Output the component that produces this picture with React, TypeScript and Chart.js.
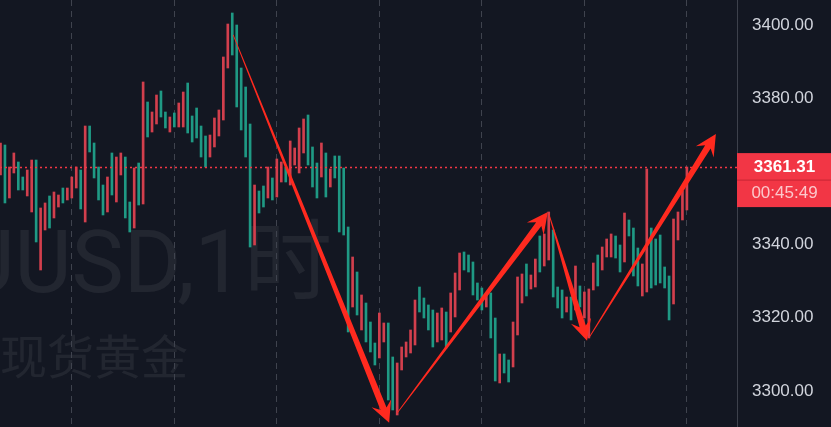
import React, { useEffect, useRef } from "react";
import { Chart, registerables } from "chart.js";

Chart.register(...registerables);

// ---- data (hourly bars, XAUUSD) ----
const highs: number[] = [
  3367.76, 3367.21, 3361.2, 3365.03, 3362.57, 3358.47, 3360.38, 3363.11, 3363.11, 3350.0,
  3351.37, 3353.28, 3354.37, 3353.55, 3355.46, 3355.46, 3358.47, 3361.2, 3360.38, 3372.4,
  3372.4, 3367.76, 3361.2, 3356.28, 3358.47, 3365.03, 3363.93, 3365.03, 3363.93, 3351.64,
  3360.93, 3362.29, 3384.43, 3378.96, 3376.23, 3380.87, 3381.97, 3376.23, 3374.86, 3375.96,
  3378.69, 3381.69, 3384.15, 3375.14, 3377.32, 3372.4, 3369.67, 3369.94, 3374.59, 3376.78,
  3391.26, 3400.27, 3403.28, 3400.0, 3388.25, 3383.06, 3372.95, 3356.28, 3354.64, 3356.01,
  3361.2, 3358.2, 3363.39, 3362.57, 3361.2, 3368.31, 3366.39, 3371.86, 3374.32, 3375.41,
  3366.67, 3362.29, 3367.76, 3365.03, 3360.66, 3364.21, 3364.21, 3360.93, 3344.81, 3336.61,
  3332.51, 3326.23, 3324.04, 3318.85, 3313.11, 3321.31, 3318.58, 3318.58, 3309.29, 3307.65,
  3312.02, 3313.39, 3316.67, 3324.86, 3328.41, 3325.41, 3323.5, 3322.13, 3321.31, 3322.68,
  3321.58, 3326.78, 3332.24, 3337.7, 3337.98, 3337.16, 3335.25, 3329.51, 3328.14, 3326.78,
  3326.78, 3319.94, 3310.11, 3310.11, 3308.47, 3318.85, 3331.15, 3331.97, 3334.7, 3331.69,
  3336.06, 3342.35, 3342.9, 3348.91, 3343.99, 3328.41, 3327.6, 3325.68, 3325.68, 3334.15,
  3328.69, 3327.05, 3327.87, 3334.97, 3337.16, 3339.34, 3341.53, 3342.9, 3342.35, 3339.89,
  3348.63, 3346.72, 3344.53, 3339.07, 3334.7, 3360.66, 3344.53, 3341.53, 3342.62, 3333.88,
  3331.42, 3346.99, 3348.91, 3354.64, 3361.2,
];
const lows: number[] = [
  3359.02, 3351.37, 3352.73, 3359.56, 3354.92, 3354.92, 3353.28, 3348.91, 3340.71, 3333.06,
  3343.99, 3344.53, 3347.27, 3350.27, 3351.37, 3352.19, 3352.73, 3355.46, 3349.73, 3346.17,
  3365.3, 3358.2, 3352.19, 3348.09, 3348.91, 3353.55, 3351.64, 3359.02, 3347.27, 3343.44,
  3344.53, 3350.82, 3351.09, 3369.4, 3370.76, 3372.95, 3374.86, 3371.86, 3370.76, 3372.13,
  3372.13, 3372.13, 3370.49, 3368.03, 3369.13, 3363.93, 3361.2, 3363.93, 3366.67, 3369.67,
  3374.04, 3388.25, 3391.8, 3377.6, 3371.31, 3363.93, 3339.34, 3339.89, 3348.63, 3350.27,
  3352.73, 3352.19, 3353.0, 3357.1, 3357.1, 3356.28, 3361.75, 3359.56, 3365.03, 3361.75,
  3355.74, 3352.73, 3358.47, 3353.0, 3355.74, 3358.2, 3343.44, 3342.62, 3316.12, 3322.95,
  3320.76, 3316.67, 3313.39, 3310.66, 3307.1, 3309.02, 3313.39, 3297.54, 3294.81, 3293.44,
  3305.74, 3309.29, 3310.38, 3312.57, 3321.58, 3319.94, 3316.67, 3312.02, 3313.39, 3313.93,
  3311.75, 3316.12, 3320.22, 3327.6, 3333.06, 3332.51, 3326.23, 3324.86, 3322.13, 3322.95,
  3314.48, 3302.73, 3302.19, 3304.92, 3302.46, 3306.56, 3315.3, 3324.04, 3325.96, 3327.87,
  3328.41, 3332.51, 3334.15, 3335.79, 3325.68, 3322.68, 3319.94, 3321.58, 3319.4, 3322.13,
  3322.95, 3319.94, 3314.48, 3327.6, 3328.69, 3333.06, 3336.61, 3336.61, 3336.33, 3332.51,
  3335.25, 3342.35, 3331.42, 3328.69, 3325.96, 3327.05, 3328.14, 3328.96, 3329.51, 3328.14,
  3319.4, 3323.77, 3341.26, 3346.72, 3349.46,
];
// 1 = red bar (rising, Chinese colour convention), 0 = green bar
const redBars: number[] = [
  1, 0, 1, 1, 0, 0, 1, 1, 0, 1,
  1, 0, 1, 1, 0, 1, 1, 1, 0, 1,
  0, 0, 0, 0, 1, 0, 1, 1, 0, 0,
  1, 0, 1, 0, 1, 1, 0, 0, 1, 0,
  1, 1, 0, 0, 0, 0, 0, 1, 1, 1,
  1, 1, 0, 0, 0, 0, 0, 1, 0, 0,
  1, 0, 1, 1, 0, 1, 1, 1, 1, 0,
  0, 0, 1, 0, 1, 0, 0, 0, 0, 1,
  0, 1, 0, 0, 0, 1, 1, 0, 0, 1,
  1, 1, 1, 1, 0, 0, 0, 0, 1, 1,
  0, 1, 1, 1, 0, 0, 0, 0, 0, 1,
  0, 0, 1, 0, 0, 1, 1, 1, 0, 1,
  1, 0, 1, 1, 0, 0, 0, 1, 0, 1,
  0, 1, 1, 1, 0, 1, 1, 1, 0, 0,
  1, 0, 0, 0, 1, 1, 0, 0, 0, 0,
  0, 1, 1, 1, 1,
];

const yTicks: number[] = [3300, 3320, 3340, 3360, 3380, 3400];
const dayBreaks: number[] = [16, 39, 62, 85, 108, 131, 154];
const lastPrice = 3361.31;
const countdown = "00:45:49";
const symbolTitle = "XAUUSD,1时";
const symbolName = "现货黄金";
// annotation arrows: [startIndex, startPrice, tipIndex, tipPrice]
const arrows: number[][] = [
  [52.2, 3397.3, 87.2, 3291.3],
  [89.0, 3294.0, 122.8, 3348.9],
  [123.1, 3348.1, 131.6, 3313.7],
  [132.0, 3314.5, 160.5, 3370.2],
];

const BG = "#131722";
const RED = "#d23f4d";
const GREEN = "#1f9984";

function drawArrow(ctx: CanvasRenderingContext2D, x1: number, y1: number, x2: number, y2: number) {
  const dx = x2 - x1, dy = y2 - y1;
  const len = Math.hypot(dx, dy);
  const ux = dx / len, uy = dy / len;
  const nx = -uy, ny = ux;
  const w0 = 0.8, w1 = 6.5, headLen = 21, headW = 21;
  const bx = x2 - ux * headLen * 0.72, by = y2 - uy * headLen * 0.72;
  const hx = x2 - ux * headLen, hy = y2 - uy * headLen;
  ctx.beginPath();
  ctx.moveTo(x1 + nx * w0 / 2, y1 + ny * w0 / 2);
  ctx.lineTo(bx + nx * w1 / 2, by + ny * w1 / 2);
  ctx.lineTo(hx + nx * headW / 2, hy + ny * headW / 2);
  ctx.lineTo(x2, y2);
  ctx.lineTo(hx - nx * headW / 2, hy - ny * headW / 2);
  ctx.lineTo(bx - nx * w1 / 2, by - ny * w1 / 2);
  ctx.lineTo(x1 - nx * w0 / 2, y1 - ny * w0 / 2);
  ctx.closePath();
  ctx.fill();
}

export default function App() {
  const ref = useRef<HTMLCanvasElement | null>(null);

  useEffect(() => {
    document.body.style.margin = "0";
    document.body.style.background = BG;
    const canvas = ref.current!;
    const bars = highs.map((h, i) => ({ x: i, y: [lows[i], h] }));
    const colors = redBars.map((r) => (r ? RED : GREEN));

    const decor = {
      id: "decor",
      beforeDraw(chart: any) {
        const { ctx, width, height } = chart;
        ctx.save();
        ctx.fillStyle = BG;
        ctx.fillRect(0, 0, width, height);
        ctx.fillStyle = "rgba(255,255,255,0.065)";
        ctx.textBaseline = "alphabetic";
        ctx.textAlign = "right";
        ctx.font = '88px Roboto, "Noto Sans CJK SC", sans-serif';
        ctx.fillText(symbolTitle, 332, 292);
        ctx.textAlign = "left";
        ctx.textBaseline = "middle";
        ctx.font = '47px "Noto Sans CJK SC", sans-serif';
        ctx.fillText(symbolName, 0, 356);
        ctx.restore();
      },
      afterDatasetsDraw(chart: any) {
        const { ctx, chartArea, scales } = chart;
        const py = scales.y.getPixelForValue(lastPrice);
        ctx.save();
        ctx.strokeStyle = "#f23645";
        ctx.lineWidth = 1.5;
        ctx.setLineDash([2, 3]);
        ctx.beginPath();
        ctx.moveTo(chartArea.left, Math.round(py) + 0.5);
        ctx.lineTo(chartArea.right, Math.round(py) + 0.5);
        ctx.stroke();
        ctx.setLineDash([]);
        ctx.fillStyle = "#ff2a1f";
        for (const a of arrows) {
          drawArrow(
            ctx,
            scales.x.getPixelForValue(a[0]),
            scales.y.getPixelForValue(a[1]),
            scales.x.getPixelForValue(a[2]),
            scales.y.getPixelForValue(a[3])
          );
        }
        ctx.restore();
      },
      afterDraw(chart: any) {
        const { ctx, chartArea, scales, width } = chart;
        const py = scales.y.getPixelForValue(lastPrice);
        const left = chartArea.right;
        ctx.save();
        ctx.fillStyle = "#f23645";
        ctx.fillRect(left, py - 13.5, width - left, 54);
        ctx.fillStyle = "rgba(120,10,20,0.35)";
        ctx.fillRect(left, py + 13, width - left, 1);
        const cx = left + (width - left) / 2 + 0.5;
        ctx.textAlign = "center";
        ctx.textBaseline = "middle";
        ctx.fillStyle = "#ffffff";
        ctx.font = 'bold 17px "Liberation Sans", Arial, sans-serif';
        ctx.fillText(lastPrice.toFixed(2), cx, py + 0.5);
        ctx.fillStyle = "rgba(255,255,255,0.72)";
        ctx.font = '17px "Liberation Sans", Arial, sans-serif';
        ctx.fillText(countdown, cx, py + 27);
        ctx.restore();
      },
    };

    const chart = new Chart(canvas, {
      type: "bar",
      data: {
        datasets: [
          {
            data: bars as any,
            backgroundColor: colors,
            borderWidth: 0,
            barThickness: 2,
          },
        ],
      },
      options: {
        animation: false,
        responsive: false,
        events: [],
        layout: { padding: 0 },
        plugins: { legend: { display: false }, tooltip: { enabled: false } },
        scales: {
          x: {
            type: "linear",
            min: -0.11,
            max: 165.24,
            offset: false,
            grid: { display: true, offset: false, color: "#3f434e", lineWidth: 1, drawTicks: false },
            border: { display: false, dash: [6, 5] },
            ticks: { display: false },
            afterBuildTicks: (s: any) => {
              s.ticks = dayBreaks.map((v) => ({ value: v }));
            },
            afterFit: (s: any) => {
              s.height = 0;
              s.paddingLeft = 0;
              s.paddingRight = 0;
            },
          },
          y: {
            type: "linear",
            position: "right",
            min: 3290.16,
            max: 3406.83,
            grid: { display: false, drawTicks: false },
            border: { display: true, color: "#3d414c", width: 1 },
            ticks: {
              padding: 15,
              color: "#d1d4dc",
              font: { family: '"Liberation Sans", Arial, sans-serif', size: 17 },
              callback: (v: any) => Number(v).toFixed(2),
            },
            afterBuildTicks: (s: any) => {
              s.ticks = yTicks.map((v) => ({ value: v }));
            },
            afterFit: (s: any) => {
              s.width = 94;
              s.paddingTop = 0;
              s.paddingBottom = 0;
            },
          },
        },
      } as any,
      plugins: [decor],
    });
    return () => chart.destroy();
  }, []);

  return (
    <div style={{ width: 831, height: 427, background: BG }}>
      <canvas ref={ref} width={831} height={427} style={{ display: "block", width: 831, height: 427 }} />
    </div>
  );
}
